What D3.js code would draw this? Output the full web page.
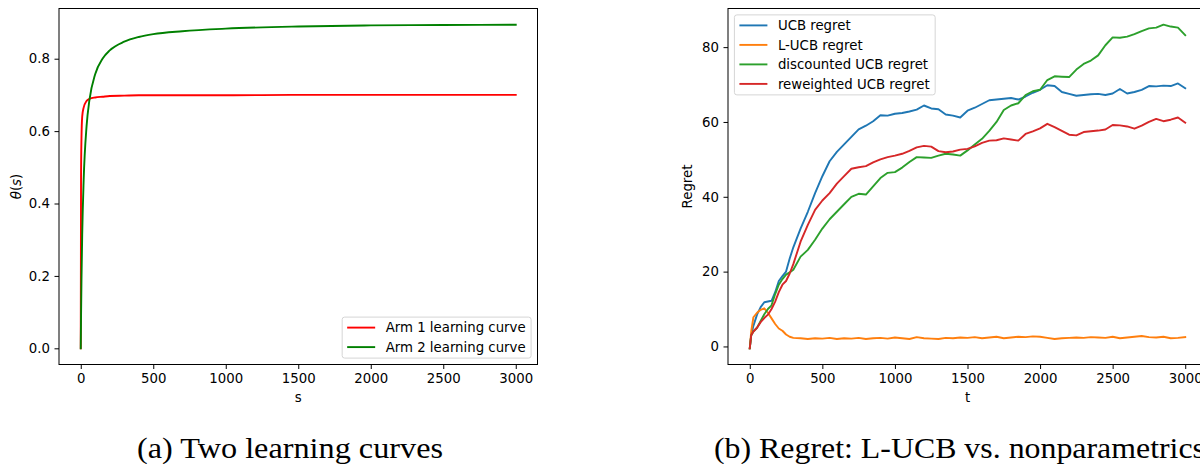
<!DOCTYPE html>
<html>
<head>
<meta charset="utf-8">
<script src="https://cdn.jsdelivr.net/npm/d3@7"></script>
<style>
  html, body { margin: 0; padding: 0; background: #fff; }
  svg { display: block; }
</style>
</head>
<body>
<svg id="fig" width="1200" height="464"></svg>
<script>
// ---- (a) learning curves: sample points of theta(s) ----
const sSteps = [0, 2, 5, 10, 20, 40, 60, 100, 150, 200, 300, 400, 500, 700, 1000, 1500, 2000, 2500, 3000];
const arm1Curve = [0, 0.47, 0.58, 0.64, 0.665, 0.683, 0.689, 0.693, 0.695, 0.697, 0.698, 0.699, 0.699, 0.699, 0.699, 0.700, 0.700, 0.700, 0.700];
const arm2Curve = [0, 0.087, 0.189, 0.313, 0.464, 0.613, 0.686, 0.758, 0.800, 0.823, 0.847, 0.860, 0.868, 0.876, 0.883, 0.889, 0.892, 0.893, 0.894];
const curveLabels = ["Arm 1 learning curve", "Arm 2 learning curve"];
const sTicks = [0, 500, 1000, 1500, 2000, 2500, 3000];
const thetaTicks = [0.0, 0.2, 0.4, 0.6, 0.8];

// ---- (b) cumulative regret ----
const tSteps = [0, 10, 25, 50, 75, 100, 125, 150, 175, 200, 225, 250, 275, 300,
  350, 400, 450, 500, 550, 600, 650, 700, 750, 800, 850, 900, 950, 1000,
  1050, 1100, 1150, 1200, 1250, 1300, 1350, 1400, 1450, 1500, 1550, 1600,
  1650, 1700, 1750, 1800, 1850, 1900, 1950, 2000, 2050, 2100, 2150, 2200,
  2250, 2300, 2350, 2400, 2450, 2500, 2550, 2600, 2650, 2700, 2750, 2800,
  2850, 2900, 2950, 3000];
const ucbRegret = [-0.5, 3, 5.5, 8.5, 10.5, 11.8, 12.0, 12.2, 14.5, 17.5, 18.8, 20, 23.5, 26.5,
  31.5, 36, 41, 45.5, 49.5, 52, 54, 56, 58, 59, 60.2, 61.8, 61.7, 62.2,
  62.4, 62.8, 63.3, 64.4, 63.6, 63.4, 62.0, 61.7, 61.2, 63, 63.8, 64.8,
  65.8, 66, 66.2, 66.4, 66, 66.8, 67.8, 68.6, 69.8, 69.6, 68, 67.5,
  67, 67.2, 67.4, 67.5, 67.2, 67.6, 68.8, 67.6, 68, 68.6, 69.6, 69.5,
  69.7, 69.6, 70.3, 69];
const lucbRegret = [-0.5, 4, 7.8, 9, 9.8, 10.2, 9, 7.5, 6, 4.8, 4.2, 3.2, 2.6, 2.3,
  2.2, 2.0, 2.2, 2.1, 2.3, 2.0, 2.2, 2.1, 2.3, 2.0, 2.2, 2.3, 2.1, 2.4,
  2.2, 2.0, 2.5, 2.2, 2.1, 2.0, 2.3, 2.2, 2.4, 2.3, 2.5, 2.2,
  2.4, 2.6, 2.2, 2.4, 2.6, 2.5, 2.7, 2.6, 2.3, 2.0, 2.2, 2.3,
  2.4, 2.3, 2.5, 2.4, 2.3, 2.6, 2.2, 2.4, 2.6, 2.8, 2.5, 2.4,
  2.6, 2.2, 2.3, 2.5];
const discountedRegret = [-0.5, 3, 4, 5, 6.8, 8.6, 10, 11, 14, 16.5, 18, 19.2, 19.8, 20.5,
  24, 25.8, 28.5, 31.5, 34, 36, 38, 40, 40.8, 40.6, 42.8, 45, 46.4, 46.6,
  47.8, 49.3, 50.6, 50.5, 50.4, 51, 51.5, 51.3, 51, 52.4, 54, 55.5,
  57.6, 60, 63.2, 64.4, 65, 67.2, 68.2, 68.6, 71.2, 72.2, 72.1, 72,
  74, 75.5, 76.4, 77.8, 80.5, 82.6, 82.5, 82.8, 83.5, 84.3, 85, 85.2,
  86, 85.5, 85.2, 83.2];
const reweightedRegret = [-0.5, 3, 4, 5, 6.5, 7.6, 8.5, 10, 12, 14.5, 16.5, 17.5, 19.5, 22,
  28, 32.5, 36.5, 39, 41, 43.5, 45.5, 47.5, 47.9, 48.2, 49.2, 50, 50.6, 51,
  51.5, 52.3, 53.2, 53.6, 53.4, 52.2, 51.9, 52.1, 52.6, 52.8, 53.5, 54.4,
  55, 55.1, 55.6, 55.3, 55, 56.8, 57.5, 58.3, 59.5, 58.6, 57.6, 56.6,
  56.4, 57.3, 57.5, 57.7, 58, 59.2, 59.1, 58.8, 58.2, 59, 60, 60.8,
  60.2, 60.6, 61.2, 59.8];
const regretLabels = ["UCB regret", "L-UCB regret", "discounted UCB regret", "reweighted UCB regret"];
const tTicks = [0, 500, 1000, 1500, 2000, 2500, 3000];
const regretTicks = [0, 20, 40, 60, 80];

const captions = ["(a) Two learning curves", "(b) Regret: L-UCB vs. nonparametrics"];

// ---- drawing ----
const svg = d3.select("#fig");
const FONT = "DejaVu Sans";
const FS = 13.3;          // tick / legend / label font size
const TICK = 4.5, PAD = 4.5;

function padded(extent) {
  const m = (extent[1] - extent[0]) * 0.05;
  return [extent[0] - m, extent[1] + m];
}

function drawPanel(cfg) {
  const { left, right, top, bottom, xTicks, yTicks, yFormat, series } = cfg;
  const allX = series.flatMap(s => s.x);
  const allY = series.flatMap(s => s.y);
  const x = d3.scaleLinear().domain(padded(d3.extent(allX))).range([left, right]);
  const y = d3.scaleLinear().domain(padded(d3.extent(allY))).range([bottom, top]);
  const g = svg.append("g");

  // lines
  const line = d3.line().x(d => x(d[0])).y(d => y(d[1]));
  if (cfg.smooth) line.curve(d3.curveMonotoneX);
  series.forEach(s => {
    g.append("path")
      .datum(s.x.map((v, i) => [v, s.y[i]]))
      .attr("d", line)
      .attr("fill", "none")
      .attr("stroke", s.color)
      .attr("stroke-width", 1.9)
      .attr("stroke-linejoin", "round")
      .attr("stroke-linecap", "square");
  });

  // axes
  const xAxis = g.append("g").attr("transform", `translate(0,${bottom})`)
    .call(d3.axisBottom(x).tickValues(xTicks).tickFormat(d3.format("d"))
      .tickSize(TICK).tickPadding(PAD).tickSizeOuter(0));
  const yAxis = g.append("g").attr("transform", `translate(${left},0)`)
    .call(d3.axisLeft(y).tickValues(yTicks).tickFormat(yFormat)
      .tickSize(TICK).tickPadding(PAD).tickSizeOuter(0));
  [xAxis, yAxis].forEach(a => {
    a.select(".domain").remove();
    a.selectAll(".tick line").attr("stroke", "#000").attr("stroke-width", 1);
    a.selectAll(".tick text").attr("font-family", FONT).attr("font-size", FS).attr("fill", "#000");
  });

  // spines
  g.append("rect")
    .attr("x", left).attr("y", top)
    .attr("width", right - left).attr("height", bottom - top)
    .attr("fill", "none").attr("stroke", "#000").attr("stroke-width", 1);

  // axis labels
  g.append("text")
    .attr("x", (left + right) / 2).attr("y", 402)
    .attr("text-anchor", "middle")
    .attr("font-family", FONT).attr("font-size", FS)
    .text(cfg.xLabel);
  const yl = g.append("text")
    .attr("transform", `translate(${cfg.yLabelX},${(top + bottom) / 2}) rotate(-90)`)
    .attr("text-anchor", "middle")
    .attr("font-family", FONT).attr("font-size", FS);
  cfg.yLabel.forEach(p => {
    yl.append("tspan").attr("font-style", p.italic ? "italic" : "normal").text(p.text);
  });

  // legend
  const lg = g.append("g");
  const rowH = 19.5;
  const items = lg.selectAll("g.item").data(series).join("g").attr("class", "item");
  items.append("line")
    .attr("x1", 5).attr("x2", 33)
    .attr("y1", (d, i) => 10.5 + i * rowH).attr("y2", (d, i) => 10.5 + i * rowH)
    .attr("stroke", d => d.color).attr("stroke-width", 1.9);
  items.append("text")
    .attr("x", 43.5).attr("y", (d, i) => 10.5 + i * rowH)
    .attr("dy", "0.36em")
    .attr("font-family", FONT).attr("font-size", FS)
    .text(d => d.label);
  let maxW = 0;
  items.selectAll("text").each(function () { maxW = Math.max(maxW, this.getComputedTextLength()); });
  const boxW = 43.5 + maxW + 5.5;
  const boxH = 10.5 + (series.length - 1) * rowH + 10.5 + 0.5;
  lg.insert("rect", ":first-child")
    .attr("x", 0).attr("y", 0).attr("width", boxW).attr("height", boxH)
    .attr("rx", 2.5).attr("fill", "#fff").attr("fill-opacity", 0.8)
    .attr("stroke", "#d5d5d5").attr("stroke-width", 1);
  const gapL = 6.4;
  const lx = cfg.legendCorner === "lower right" ? right - gapL - boxW : left + gapL;
  const ly = cfg.legendCorner === "lower right" ? bottom - gapL - boxH : top + gapL;
  lg.attr("transform", `translate(${lx},${ly})`);
}

drawPanel({
  left: 59, right: 537.5, top: 8.5, bottom: 364.5,
  xTicks: sTicks, yTicks: thetaTicks, yFormat: d3.format(".1f"),
  smooth: true,
  xLabel: "s",
  yLabel: [{ text: "θ", italic: true }, { text: "(" }, { text: "s", italic: true }, { text: ")" }],
  yLabelX: 21,
  legendCorner: "lower right",
  series: [
    { x: sSteps, y: arm1Curve, color: "#ff0000", label: curveLabels[0] },
    { x: sSteps, y: arm2Curve, color: "#008000", label: curveLabels[1] }
  ]
});

drawPanel({
  left: 728, right: 1207, top: 8.5, bottom: 364.5,
  xTicks: tTicks, yTicks: regretTicks, yFormat: d3.format("d"),
  smooth: false,
  xLabel: "t",
  yLabel: [{ text: "Regret" }],
  yLabelX: 692,
  legendCorner: "upper left",
  series: [
    { x: tSteps, y: ucbRegret, color: "#1f77b4", label: regretLabels[0] },
    { x: tSteps, y: lucbRegret, color: "#ff7f0e", label: regretLabels[1] },
    { x: tSteps, y: discountedRegret, color: "#2ca02c", label: regretLabels[2] },
    { x: tSteps, y: reweightedRegret, color: "#d62728", label: regretLabels[3] }
  ]
});

// sub-figure captions
const capPos = [{ x: 137, w: 306 }, { x: 714, w: 491 }];
captions.forEach((c, i) => {
  svg.append("text")
    .attr("x", capPos[i].x).attr("y", 458)
    .attr("font-family", "Liberation Serif, DejaVu Serif, serif")
    .attr("font-size", 29)
    .attr("textLength", capPos[i].w)
    .attr("lengthAdjust", "spacingAndGlyphs")
    .attr("fill", "#000")
    .text(c);
});
</script>
</body>
</html>
